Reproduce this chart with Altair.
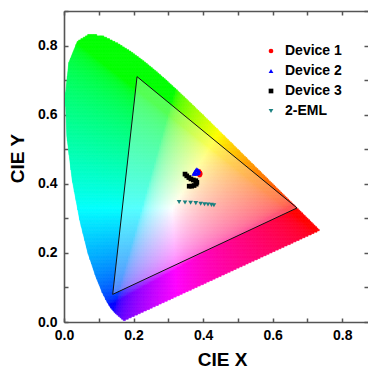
import altair as alt
import numpy as np
import pandas as pd

# CIE 1931 spectral locus (380-700 nm, 5 nm steps)
locus_x = [0.1741, 0.1740, 0.1738, 0.1736, 0.1733, 0.1730, 0.1726, 0.1721, 0.1714, 0.1703,
           0.1689, 0.1669, 0.1644, 0.1611, 0.1566, 0.1510, 0.1440, 0.1355, 0.1241, 0.1096,
           0.0913, 0.0687, 0.0454, 0.0235, 0.0082, 0.0039, 0.0139, 0.0389, 0.0743, 0.1142,
           0.1547, 0.1929, 0.2296, 0.2658, 0.3016, 0.3373, 0.3731, 0.4087, 0.4441, 0.4788,
           0.5125, 0.5448, 0.5752, 0.6029, 0.6270, 0.6482, 0.6658, 0.6801, 0.6915, 0.7006,
           0.7079, 0.7140, 0.7190, 0.7230, 0.7260, 0.7283, 0.7300, 0.7311, 0.7320, 0.7327,
           0.7334, 0.7340, 0.7344, 0.7346, 0.7347]
locus_y = [0.0050, 0.0050, 0.0049, 0.0049, 0.0048, 0.0048, 0.0048, 0.0048, 0.0051, 0.0058,
           0.0069, 0.0086, 0.0109, 0.0138, 0.0177, 0.0227, 0.0297, 0.0399, 0.0578, 0.0868,
           0.1327, 0.2007, 0.2950, 0.4127, 0.5384, 0.6548, 0.7502, 0.8120, 0.8338, 0.8262,
           0.8059, 0.7816, 0.7543, 0.7243, 0.6923, 0.6589, 0.6245, 0.5896, 0.5547, 0.5202,
           0.4866, 0.4544, 0.4242, 0.3965, 0.3725, 0.3514, 0.3340, 0.3197, 0.3083, 0.2993,
           0.2920, 0.2859, 0.2809, 0.2770, 0.2740, 0.2717, 0.2700, 0.2689, 0.2680, 0.2673,
           0.2666, 0.2660, 0.2656, 0.2654, 0.2653]

# NTSC triangle vertices
tri_x = [0.14, 0.21, 0.67, 0.14]
tri_y = [0.08, 0.71, 0.33, 0.08]

# Device measurements
dev1_x = [0.388, 0.391, 0.392, 0.390]
dev1_y = [0.436, 0.432, 0.428, 0.425]
dev2_x = [0.373, 0.376, 0.379, 0.382, 0.385, 0.388, 0.386, 0.381, 0.377]
dev2_y = [0.429, 0.434, 0.439, 0.442, 0.440, 0.436, 0.431, 0.429, 0.430]
dev3_x = [0.348, 0.353, 0.359, 0.365, 0.372, 0.379, 0.382, 0.380, 0.374, 0.367, 0.360]
dev3_y = [0.428, 0.423, 0.418, 0.414, 0.411, 0.409, 0.404, 0.399, 0.395, 0.393, 0.393]
eml_x = [0.331, 0.348, 0.364, 0.379, 0.393, 0.404, 0.414, 0.424, 0.431]
eml_y = [0.347, 0.346, 0.345, 0.344, 0.342, 0.341, 0.340, 0.339, 0.338]

series_names = ["Device 1", "Device 2", "Device 3", "2-EML"]
series_colors = ["#ff0000", "#0000ff", "#000000", "#1a8080"]
series_shapes = ["circle", "triangle-up", "square", "triangle-down"]

FONT = "Liberation Sans"

# ---- gamut background: row strips clipped exactly to the locus ----
row_step = 0.004
col_step = 0.005
px = np.array(locus_x + [locus_x[0]])
py = np.array(locus_y + [locus_y[0]])
M = np.array([[3.2406, -1.5372, -0.4986],
              [-0.9689, 1.8758, 0.0415],
              [0.0557, -0.2040, 1.0570]])

cx0, cx1, cy0, cy1, ccx, ccy = [], [], [], [], [], []
yc = row_step / 2
while yc < 0.84:
    xs_int = []
    for i in range(len(px) - 1):
        ya, yb = py[i], py[i + 1]
        if (ya > yc) != (yb > yc):
            xs_int.append(px[i] + (px[i + 1] - px[i]) * (yc - ya) / (yb - ya))
    xs_int.sort()
    for k in range(0, len(xs_int) - 1, 2):
        xl, xr = xs_int[k], xs_int[k + 1]
        c = np.floor(xl / col_step) * col_step
        while c < xr:
            a = max(c, xl)
            b = min(c + col_step, xr)
            if b > a:
                cx0.append(a)
                cx1.append(b)
                cy0.append(yc - row_step / 2)
                cy1.append(yc + row_step / 2)
                ccx.append((a + b) / 2)
                ccy.append(yc)
            c += col_step
    yc += row_step

gx = np.array(ccx)
gy = np.array(ccy)
XYZ = np.vstack([gx / gy, np.ones_like(gx), (1 - gx - gy) / gy])
rgb = np.clip(M @ XYZ, 0, None)
rgb = rgb / rgb.max(axis=0, keepdims=True)
rgb = np.where(rgb <= 0.0031308, 12.92 * rgb, 1.055 * np.power(rgb, 1 / 2.4) - 0.055)
rgb = np.clip(np.round(rgb * 255), 0, 255).astype(int)
hexes = ["#%02x%02x%02x" % (r, g, b) for r, g, b in rgb.T]
cells = pd.DataFrame({"x": cx0, "x2": cx1, "y": cy0, "y2": cy1, "c": hexes})

PW, PH = 304, 311          # visible view
RANGE_W = 313              # full 0-0.9 span (right part falls outside the picture)
xs_scale = alt.Scale(domain=[0, 0.9], range=[0, RANGE_W], nice=False, zero=False)
ys_scale = alt.Scale(domain=[0, 0.9], nice=False, zero=False)
tick_vals = [round(0.1 * k, 1) for k in range(10)]
lab_expr = "(round(datum.value*10) % 2 == 0) ? format(datum.value, '.1f') : ''"

LINE = "#555555"
base = dict(grid=False, labelFont=FONT, labelFontSize=14, labelFontWeight="bold",
            labelColor="#000000", titleFont=FONT, titleFontSize=19, titleFontWeight="bold",
            titleColor="#000000", domainColor=LINE, domainWidth=1.6, tickColor=LINE,
            tickWidth=1.5)

# frame + labels
x_bottom = alt.Axis(orient="bottom", title="CIE X", values=tick_vals, labelExpr=lab_expr,
                    ticks=False, domain=True, labelPadding=6, titlePadding=8,
                    titleX=158, labelFlush=False, labelOverlap=False, **base)
y_left = alt.Axis(orient="left", title="CIE Y", values=tick_vals, labelExpr=lab_expr,
                  ticks=False, domain=True, labelPadding=7, titlePadding=10,
                  titleY=147, labelFlush=False, labelOverlap=False, **base)
x_top_dom = alt.Axis(orient="top", title=None, labels=False, ticks=False, domain=True, **base)
# inward ticks
tk = dict(values=tick_vals, title=None, labels=False, ticks=True, tickSize=4, offset=-4,
          domain=False)
x_bottom_t = alt.Axis(orient="bottom", **tk, **base)
y_left_t = alt.Axis(orient="left", **tk, **base)
x_top_t = alt.Axis(orient="top", **tk, **base)
y_right_t = alt.Axis(orient="right", **tk, **base)

gamut = alt.Chart(cells).mark_rect(strokeWidth=0.6).encode(
    x=alt.X("x:Q", scale=xs_scale, axis=x_bottom),
    x2="x2:Q",
    y=alt.Y("y:Q", scale=ys_scale, axis=y_left),
    y2="y2:Q",
    color=alt.Color("c:N", scale=None),
    stroke=alt.Stroke("c:N", scale=None),
)

ax_, bx_, cx_ = tri_x[0], tri_x[1], tri_x[2]
ay_, by_, cy_ = tri_y[0], tri_y[1], tri_y[2]
low_b = ay_ + (cy_ - ay_) * (bx_ - ax_) / (cx_ - ax_)
tri_fill = pd.DataFrame({"x": [ax_, bx_, cx_], "y": [ay_, by_, cy_], "y2": [ay_, low_b, cy_]})
tri_area = alt.Chart(tri_fill).mark_area(color="#ffffff", opacity=0.32).encode(
    x=alt.X("x:Q", scale=xs_scale, axis=x_top_dom),
    y=alt.Y("y:Q", scale=ys_scale, axis=None),
    y2="y2:Q",
)
tri_df = pd.DataFrame({"x": tri_x, "y": tri_y, "o": list(range(len(tri_x)))})
tri_line = alt.Chart(tri_df).mark_line(color="#111111", strokeWidth=1).encode(
    x=alt.X("x:Q", scale=xs_scale, axis=x_bottom_t),
    y=alt.Y("y:Q", scale=ys_scale, axis=y_left_t),
    order="o:Q",
)

rows = []
for name, xv, yv in [("Device 1", dev1_x, dev1_y), ("Device 2", dev2_x, dev2_y),
                     ("Device 3", dev3_x, dev3_y), ("2-EML", eml_x, eml_y)]:
    for a, b in zip(xv, yv):
        rows.append({"x": a, "y": b, "s": name})
pts = pd.DataFrame(rows)

legend = alt.Legend(title=None, orient="none", legendX=200, legendY=33, padding=0,
                    labelFont=FONT, labelFontSize=14, labelFontWeight="bold", labelColor="#000000",
                    symbolSize=22, rowPadding=6, labelOffset=7, symbolStrokeWidth=0)
points = alt.Chart(pts).mark_point(filled=True, size=22, opacity=1, strokeWidth=0).encode(
    x=alt.X("x:Q", scale=xs_scale, axis=x_top_t),
    y=alt.Y("y:Q", scale=ys_scale, axis=y_right_t),
    color=alt.Color("s:N", scale=alt.Scale(domain=series_names, range=series_colors), legend=legend),
    shape=alt.Shape("s:N", scale=alt.Scale(domain=series_names, range=series_shapes), legend=legend),
)

chart = alt.layer(gamut, tri_area, tri_line, points).resolve_axis(
    x="independent", y="independent"
).properties(
    width=PW, height=PH,
    autosize=alt.AutoSizeParams(type="none"),
    padding={"left": 56, "top": 3, "right": 0, "bottom": 47},
    background="#ffffff",
).configure_view(strokeWidth=0)

chart.save("out.html", embed_options={"renderer": "svg", "actions": False})
